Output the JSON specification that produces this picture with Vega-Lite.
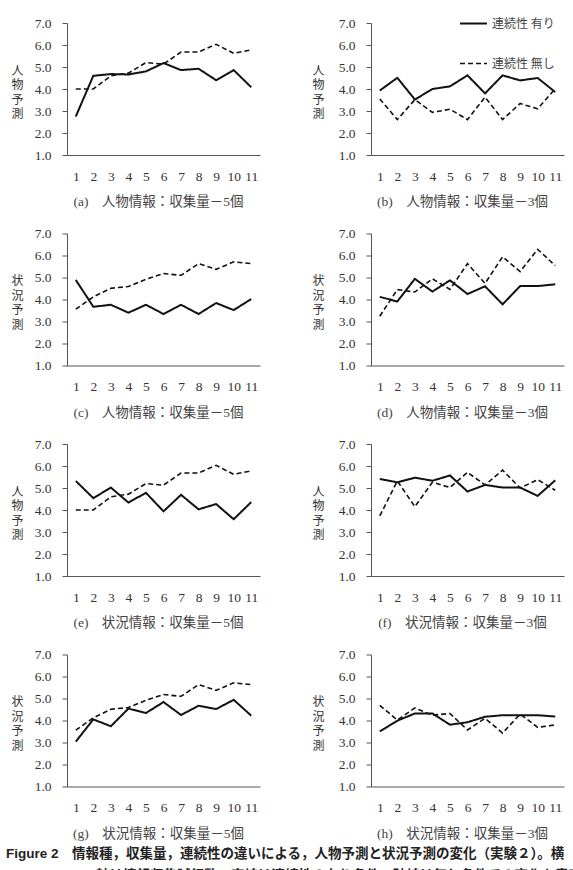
{
  "$schema": "https://vega.github.io/schema/vega-lite/v6.json",
  "padding": {"left": 5, "top": 9, "right": 0, "bottom": 0},
  "background": "white",
  "config": {
    "view": {"stroke": null},
    "axis": {
      "grid": false,
      "domainColor": "#555",
      "tickColor": "#555",
      "labelFont": "Liberation Serif",
      "labelFontSize": 13.5,
      "labelColor": "#333",
      "titleFont": "Liberation Serif, Noto Sans CJK JP",
      "titleFontWeight": "normal",
      "titleColor": "#444",
      "titleFontSize": 13.5
    },
    "axisX": {"ticks": false, "tickSize": 0, "labelPadding": 14, "titlePadding": 12, "labelAngle": 0, "titleX": 91},
    "axisY": {
      "tickSize": 5,
      "labelPadding": 11,
      "titleAngle": 0,
      "titleAlign": "center",
      "titleBaseline": "top",
      "titleY": 42,
      "titleLineHeight": 14.5,
      "titleFontSize": 12,
      "titleColor": "#333",
      "titleFont": "Noto Sans CJK JP"
    }
  },
  "title": {
    "text": [
      "Figure 2　情報種，収集量，連続性の違いによる，人物予測と状況予測の変化（実験２）。横",
      "⠀⠀⠀⠀⠀⠀⠀⠀⠀軸は情報収集試行数，実線は連続性の有り条件，破線は無し条件での変化を意味"
    ],
    "orient": "bottom",
    "anchor": "start",
    "frame": "bounds",
    "offset": 7,
    "dx": -5,
    "font": "Liberation Sans, Noto Sans CJK JP",
    "fontSize": 13.5,
    "fontWeight": "bold",
    "color": "#222",
    "lineHeight": 22
  },
  "resolve": {
    "scale": {"strokeDash": "independent", "strokeWidth": "independent"},
    "legend": {"strokeDash": "independent", "strokeWidth": "independent"}
  },
  "data": {
    "values": [
      {"panel": "a", "cond": "連続性 有り", "trial": 1, "score": 2.75},
      {"panel": "a", "cond": "連続性 有り", "trial": 2, "score": 4.6},
      {"panel": "a", "cond": "連続性 有り", "trial": 3, "score": 4.68},
      {"panel": "a", "cond": "連続性 有り", "trial": 4, "score": 4.66},
      {"panel": "a", "cond": "連続性 有り", "trial": 5, "score": 4.8},
      {"panel": "a", "cond": "連続性 有り", "trial": 6, "score": 5.18},
      {"panel": "a", "cond": "連続性 有り", "trial": 7, "score": 4.86},
      {"panel": "a", "cond": "連続性 有り", "trial": 8, "score": 4.92},
      {"panel": "a", "cond": "連続性 有り", "trial": 9, "score": 4.4},
      {"panel": "a", "cond": "連続性 有り", "trial": 10, "score": 4.86},
      {"panel": "a", "cond": "連続性 有り", "trial": 11, "score": 4.08},
      {"panel": "a", "cond": "連続性 無し", "trial": 1, "score": 4.0},
      {"panel": "a", "cond": "連続性 無し", "trial": 2, "score": 4.0},
      {"panel": "a", "cond": "連続性 無し", "trial": 3, "score": 4.6},
      {"panel": "a", "cond": "連続性 無し", "trial": 4, "score": 4.72},
      {"panel": "a", "cond": "連続性 無し", "trial": 5, "score": 5.2},
      {"panel": "a", "cond": "連続性 無し", "trial": 6, "score": 5.13},
      {"panel": "a", "cond": "連続性 無し", "trial": 7, "score": 5.68},
      {"panel": "a", "cond": "連続性 無し", "trial": 8, "score": 5.68},
      {"panel": "a", "cond": "連続性 無し", "trial": 9, "score": 6.03},
      {"panel": "a", "cond": "連続性 無し", "trial": 10, "score": 5.62},
      {"panel": "a", "cond": "連続性 無し", "trial": 11, "score": 5.78},

      {"panel": "b", "cond": "連続性 有り", "trial": 1, "score": 3.93},
      {"panel": "b", "cond": "連続性 有り", "trial": 2, "score": 4.51},
      {"panel": "b", "cond": "連続性 有り", "trial": 3, "score": 3.52},
      {"panel": "b", "cond": "連続性 有り", "trial": 4, "score": 4.0},
      {"panel": "b", "cond": "連続性 有り", "trial": 5, "score": 4.12},
      {"panel": "b", "cond": "連続性 有り", "trial": 6, "score": 4.62},
      {"panel": "b", "cond": "連続性 有り", "trial": 7, "score": 3.8},
      {"panel": "b", "cond": "連続性 有り", "trial": 8, "score": 4.62},
      {"panel": "b", "cond": "連続性 有り", "trial": 9, "score": 4.39},
      {"panel": "b", "cond": "連続性 有り", "trial": 10, "score": 4.5},
      {"panel": "b", "cond": "連続性 有り", "trial": 11, "score": 3.86},
      {"panel": "b", "cond": "連続性 無し", "trial": 1, "score": 3.55},
      {"panel": "b", "cond": "連続性 無し", "trial": 2, "score": 2.61},
      {"panel": "b", "cond": "連続性 無し", "trial": 3, "score": 3.52},
      {"panel": "b", "cond": "連続性 無し", "trial": 4, "score": 2.94},
      {"panel": "b", "cond": "連続性 無し", "trial": 5, "score": 3.08},
      {"panel": "b", "cond": "連続性 無し", "trial": 6, "score": 2.61},
      {"panel": "b", "cond": "連続性 無し", "trial": 7, "score": 3.63},
      {"panel": "b", "cond": "連続性 無し", "trial": 8, "score": 2.61},
      {"panel": "b", "cond": "連続性 無し", "trial": 9, "score": 3.34},
      {"panel": "b", "cond": "連続性 無し", "trial": 10, "score": 3.1},
      {"panel": "b", "cond": "連続性 無し", "trial": 11, "score": 4.01},

      {"panel": "c", "cond": "連続性 有り", "trial": 1, "score": 4.89},
      {"panel": "c", "cond": "連続性 有り", "trial": 2, "score": 3.67},
      {"panel": "c", "cond": "連続性 有り", "trial": 3, "score": 3.76},
      {"panel": "c", "cond": "連続性 有り", "trial": 4, "score": 3.4},
      {"panel": "c", "cond": "連続性 有り", "trial": 5, "score": 3.76},
      {"panel": "c", "cond": "連続性 有り", "trial": 6, "score": 3.34},
      {"panel": "c", "cond": "連続性 有り", "trial": 7, "score": 3.76},
      {"panel": "c", "cond": "連続性 有り", "trial": 8, "score": 3.34},
      {"panel": "c", "cond": "連続性 有り", "trial": 9, "score": 3.84},
      {"panel": "c", "cond": "連続性 有り", "trial": 10, "score": 3.52},
      {"panel": "c", "cond": "連続性 有り", "trial": 11, "score": 4.02},
      {"panel": "c", "cond": "連続性 無し", "trial": 1, "score": 3.56},
      {"panel": "c", "cond": "連続性 無し", "trial": 2, "score": 4.12},
      {"panel": "c", "cond": "連続性 無し", "trial": 3, "score": 4.51},
      {"panel": "c", "cond": "連続性 無し", "trial": 4, "score": 4.59},
      {"panel": "c", "cond": "連続性 無し", "trial": 5, "score": 4.92},
      {"panel": "c", "cond": "連続性 無し", "trial": 6, "score": 5.18},
      {"panel": "c", "cond": "連続性 無し", "trial": 7, "score": 5.1},
      {"panel": "c", "cond": "連続性 無し", "trial": 8, "score": 5.63},
      {"panel": "c", "cond": "連続性 無し", "trial": 9, "score": 5.37},
      {"panel": "c", "cond": "連続性 無し", "trial": 10, "score": 5.71},
      {"panel": "c", "cond": "連続性 無し", "trial": 11, "score": 5.63},

      {"panel": "d", "cond": "連続性 有り", "trial": 1, "score": 4.12},
      {"panel": "d", "cond": "連続性 有り", "trial": 2, "score": 3.91},
      {"panel": "d", "cond": "連続性 有り", "trial": 3, "score": 4.94},
      {"panel": "d", "cond": "連続性 有り", "trial": 4, "score": 4.36},
      {"panel": "d", "cond": "連続性 有り", "trial": 5, "score": 4.87},
      {"panel": "d", "cond": "連続性 有り", "trial": 6, "score": 4.25},
      {"panel": "d", "cond": "連続性 有り", "trial": 7, "score": 4.6},
      {"panel": "d", "cond": "連続性 有り", "trial": 8, "score": 3.78},
      {"panel": "d", "cond": "連続性 有り", "trial": 9, "score": 4.61},
      {"panel": "d", "cond": "連続性 有り", "trial": 10, "score": 4.61},
      {"panel": "d", "cond": "連続性 有り", "trial": 11, "score": 4.69},
      {"panel": "d", "cond": "連続性 無し", "trial": 1, "score": 3.24},
      {"panel": "d", "cond": "連続性 無し", "trial": 2, "score": 4.45},
      {"panel": "d", "cond": "連続性 無し", "trial": 3, "score": 4.34},
      {"panel": "d", "cond": "連続性 無し", "trial": 4, "score": 4.94},
      {"panel": "d", "cond": "連続性 無し", "trial": 5, "score": 4.46},
      {"panel": "d", "cond": "連続性 無し", "trial": 6, "score": 5.63},
      {"panel": "d", "cond": "連続性 無し", "trial": 7, "score": 4.73},
      {"panel": "d", "cond": "連続性 無し", "trial": 8, "score": 5.94},
      {"panel": "d", "cond": "連続性 無し", "trial": 9, "score": 5.27},
      {"panel": "d", "cond": "連続性 無し", "trial": 10, "score": 6.28},
      {"panel": "d", "cond": "連続性 無し", "trial": 11, "score": 5.54},

      {"panel": "e", "cond": "連続性 有り", "trial": 1, "score": 5.32},
      {"panel": "e", "cond": "連続性 有り", "trial": 2, "score": 4.54},
      {"panel": "e", "cond": "連続性 有り", "trial": 3, "score": 5.02},
      {"panel": "e", "cond": "連続性 有り", "trial": 4, "score": 4.34},
      {"panel": "e", "cond": "連続性 有り", "trial": 5, "score": 4.78},
      {"panel": "e", "cond": "連続性 有り", "trial": 6, "score": 3.94},
      {"panel": "e", "cond": "連続性 有り", "trial": 7, "score": 4.69},
      {"panel": "e", "cond": "連続性 有り", "trial": 8, "score": 4.03},
      {"panel": "e", "cond": "連続性 有り", "trial": 9, "score": 4.27},
      {"panel": "e", "cond": "連続性 有り", "trial": 10, "score": 3.58},
      {"panel": "e", "cond": "連続性 有り", "trial": 11, "score": 4.36},
      {"panel": "e", "cond": "連続性 無し", "trial": 1, "score": 4.0},
      {"panel": "e", "cond": "連続性 無し", "trial": 2, "score": 4.0},
      {"panel": "e", "cond": "連続性 無し", "trial": 3, "score": 4.6},
      {"panel": "e", "cond": "連続性 無し", "trial": 4, "score": 4.72},
      {"panel": "e", "cond": "連続性 無し", "trial": 5, "score": 5.2},
      {"panel": "e", "cond": "連続性 無し", "trial": 6, "score": 5.13},
      {"panel": "e", "cond": "連続性 無し", "trial": 7, "score": 5.68},
      {"panel": "e", "cond": "連続性 無し", "trial": 8, "score": 5.68},
      {"panel": "e", "cond": "連続性 無し", "trial": 9, "score": 6.03},
      {"panel": "e", "cond": "連続性 無し", "trial": 10, "score": 5.62},
      {"panel": "e", "cond": "連続性 無し", "trial": 11, "score": 5.78},

      {"panel": "f", "cond": "連続性 有り", "trial": 1, "score": 5.41},
      {"panel": "f", "cond": "連続性 有り", "trial": 2, "score": 5.26},
      {"panel": "f", "cond": "連続性 有り", "trial": 3, "score": 5.47},
      {"panel": "f", "cond": "連続性 有り", "trial": 4, "score": 5.33},
      {"panel": "f", "cond": "連続性 有り", "trial": 5, "score": 5.57},
      {"panel": "f", "cond": "連続性 有り", "trial": 6, "score": 4.84},
      {"panel": "f", "cond": "連続性 有り", "trial": 7, "score": 5.14},
      {"panel": "f", "cond": "連続性 有り", "trial": 8, "score": 5.02},
      {"panel": "f", "cond": "連続性 有り", "trial": 9, "score": 5.02},
      {"panel": "f", "cond": "連続性 有り", "trial": 10, "score": 4.64},
      {"panel": "f", "cond": "連続性 有り", "trial": 11, "score": 5.35},
      {"panel": "f", "cond": "連続性 無し", "trial": 1, "score": 3.73},
      {"panel": "f", "cond": "連続性 無し", "trial": 2, "score": 5.32},
      {"panel": "f", "cond": "連続性 無し", "trial": 3, "score": 4.15},
      {"panel": "f", "cond": "連続性 無し", "trial": 4, "score": 5.26},
      {"panel": "f", "cond": "連続性 無し", "trial": 5, "score": 5.02},
      {"panel": "f", "cond": "連続性 無し", "trial": 6, "score": 5.71},
      {"panel": "f", "cond": "連続性 無し", "trial": 7, "score": 5.14},
      {"panel": "f", "cond": "連続性 無し", "trial": 8, "score": 5.81},
      {"panel": "f", "cond": "連続性 無し", "trial": 9, "score": 5.0},
      {"panel": "f", "cond": "連続性 無し", "trial": 10, "score": 5.38},
      {"panel": "f", "cond": "連続性 無し", "trial": 11, "score": 4.9},

      {"panel": "g", "cond": "連続性 有り", "trial": 1, "score": 3.04},
      {"panel": "g", "cond": "連続性 有り", "trial": 2, "score": 4.05},
      {"panel": "g", "cond": "連続性 有り", "trial": 3, "score": 3.74},
      {"panel": "g", "cond": "連続性 有り", "trial": 4, "score": 4.54},
      {"panel": "g", "cond": "連続性 有り", "trial": 5, "score": 4.34},
      {"panel": "g", "cond": "連続性 有り", "trial": 6, "score": 4.84},
      {"panel": "g", "cond": "連続性 有り", "trial": 7, "score": 4.25},
      {"panel": "g", "cond": "連続性 有り", "trial": 8, "score": 4.67},
      {"panel": "g", "cond": "連続性 有り", "trial": 9, "score": 4.52},
      {"panel": "g", "cond": "連続性 有り", "trial": 10, "score": 4.94},
      {"panel": "g", "cond": "連続性 有り", "trial": 11, "score": 4.22},
      {"panel": "g", "cond": "連続性 無し", "trial": 1, "score": 3.56},
      {"panel": "g", "cond": "連続性 無し", "trial": 2, "score": 4.12},
      {"panel": "g", "cond": "連続性 無し", "trial": 3, "score": 4.51},
      {"panel": "g", "cond": "連続性 無し", "trial": 4, "score": 4.59},
      {"panel": "g", "cond": "連続性 無し", "trial": 5, "score": 4.92},
      {"panel": "g", "cond": "連続性 無し", "trial": 6, "score": 5.18},
      {"panel": "g", "cond": "連続性 無し", "trial": 7, "score": 5.1},
      {"panel": "g", "cond": "連続性 無し", "trial": 8, "score": 5.63},
      {"panel": "g", "cond": "連続性 無し", "trial": 9, "score": 5.37},
      {"panel": "g", "cond": "連続性 無し", "trial": 10, "score": 5.71},
      {"panel": "g", "cond": "連続性 無し", "trial": 11, "score": 5.63},

      {"panel": "h", "cond": "連続性 有り", "trial": 1, "score": 3.5},
      {"panel": "h", "cond": "連続性 有り", "trial": 2, "score": 3.99},
      {"panel": "h", "cond": "連続性 有り", "trial": 3, "score": 4.32},
      {"panel": "h", "cond": "連続性 有り", "trial": 4, "score": 4.32},
      {"panel": "h", "cond": "連続性 有り", "trial": 5, "score": 3.81},
      {"panel": "h", "cond": "連続性 有り", "trial": 6, "score": 3.92},
      {"panel": "h", "cond": "連続性 有り", "trial": 7, "score": 4.17},
      {"panel": "h", "cond": "連続性 有り", "trial": 8, "score": 4.24},
      {"panel": "h", "cond": "連続性 有り", "trial": 9, "score": 4.24},
      {"panel": "h", "cond": "連続性 有り", "trial": 10, "score": 4.24},
      {"panel": "h", "cond": "連続性 有り", "trial": 11, "score": 4.18},
      {"panel": "h", "cond": "連続性 無し", "trial": 1, "score": 4.69},
      {"panel": "h", "cond": "連続性 無し", "trial": 2, "score": 4.02},
      {"panel": "h", "cond": "連続性 無し", "trial": 3, "score": 4.57},
      {"panel": "h", "cond": "連続性 無し", "trial": 4, "score": 4.24},
      {"panel": "h", "cond": "連続性 無し", "trial": 5, "score": 4.32},
      {"panel": "h", "cond": "連続性 無し", "trial": 6, "score": 3.57},
      {"panel": "h", "cond": "連続性 無し", "trial": 7, "score": 4.1},
      {"panel": "h", "cond": "連続性 無し", "trial": 8, "score": 3.43},
      {"panel": "h", "cond": "連続性 無し", "trial": 9, "score": 4.29},
      {"panel": "h", "cond": "連続性 無し", "trial": 10, "score": 3.69},
      {"panel": "h", "cond": "連続性 無し", "trial": 11, "score": 3.8}
    ]
  },
  "columns": 2,
  "bounds": "flush",
  "spacing": {"row": 78.5, "column": 111},
  "concat": [
    {
      "width": 193, "height": 132,
      "transform": [{"filter": "datum.panel === 'a'"}],
      "mark": {"type": "line", "color": "#111"},
      "encoding": {
        "x": {"field": "trial", "type": "quantitative", "scale": {"domain": [0.5, 11.5]},
              "axis": {"values": [1,2,3,4,5,6,7,8,9,10,11], "format": "d", "title": "(a)　人物情報：収集量－5個"}},
        "y": {"field": "score", "type": "quantitative", "scale": {"domain": [1, 7]},
              "axis": {"values": [1,2,3,4,5,6,7], "format": ".1f", "title": ["人","物","予","測"], "titleX": -50}},
        "strokeDash": {"field": "cond", "type": "nominal", "scale": {"domain": ["連続性 有り","連続性 無し"], "range": [[1,0],[5,3]]}, "legend": null},
        "strokeWidth": {"field": "cond", "type": "nominal", "scale": {"domain": ["連続性 有り","連続性 無し"], "range": [2,1.6]}, "legend": null}
      }
    },
    {
      "width": 193, "height": 132,
      "transform": [{"filter": "datum.panel === 'b'"}],
      "mark": {"type": "line", "color": "#111"},
      "encoding": {
        "x": {"field": "trial", "type": "quantitative", "scale": {"domain": [0.5, 11.5]},
              "axis": {"values": [1,2,3,4,5,6,7,8,9,10,11], "format": "d", "title": "(b)　人物情報：収集量－3個"}},
        "y": {"field": "score", "type": "quantitative", "scale": {"domain": [1, 7]},
              "axis": {"values": [1,2,3,4,5,6,7], "format": ".1f", "title": ["人","物","予","測"], "titleX": -53}},
        "strokeDash": {"field": "cond", "type": "nominal", "scale": {"domain": ["連続性 有り","連続性 無し"], "range": [[1,0],[5,3]]},
                       "legend": {"title": null, "orient": "none", "legendX": 88, "legendY": -14, "symbolType": "stroke", "symbolSize": 729,
                                  "symbolStrokeColor": "#111", "rowPadding": 19, "labelOffset": 4, "labelFont": "Noto Sans CJK JP",
                                  "labelFontSize": 12, "labelColor": "#444"}},
        "strokeWidth": {"field": "cond", "type": "nominal", "scale": {"domain": ["連続性 有り","連続性 無し"], "range": [2,1.6]},
                        "legend": {"title": null, "orient": "none", "legendX": 88, "legendY": -14, "symbolType": "stroke", "symbolSize": 729,
                                   "symbolStrokeColor": "#111", "rowPadding": 19, "labelOffset": 4, "labelFont": "Noto Sans CJK JP",
                                   "labelFontSize": 12, "labelColor": "#444"}}
      }
    },
    {
      "width": 193, "height": 132,
      "transform": [{"filter": "datum.panel === 'c'"}],
      "mark": {"type": "line", "color": "#111"},
      "encoding": {
        "x": {"field": "trial", "type": "quantitative", "scale": {"domain": [0.5, 11.5]},
              "axis": {"values": [1,2,3,4,5,6,7,8,9,10,11], "format": "d", "title": "(c)　人物情報：収集量－5個"}},
        "y": {"field": "score", "type": "quantitative", "scale": {"domain": [1, 7]},
              "axis": {"values": [1,2,3,4,5,6,7], "format": ".1f", "title": ["状","況","予","測"], "titleX": -50}},
        "strokeDash": {"field": "cond", "type": "nominal", "scale": {"domain": ["連続性 有り","連続性 無し"], "range": [[1,0],[5,3]]}, "legend": null},
        "strokeWidth": {"field": "cond", "type": "nominal", "scale": {"domain": ["連続性 有り","連続性 無し"], "range": [2,1.6]}, "legend": null}
      }
    },
    {
      "width": 193, "height": 132,
      "transform": [{"filter": "datum.panel === 'd'"}],
      "mark": {"type": "line", "color": "#111"},
      "encoding": {
        "x": {"field": "trial", "type": "quantitative", "scale": {"domain": [0.5, 11.5]},
              "axis": {"values": [1,2,3,4,5,6,7,8,9,10,11], "format": "d", "title": "(d)　人物情報：収集量－3個"}},
        "y": {"field": "score", "type": "quantitative", "scale": {"domain": [1, 7]},
              "axis": {"values": [1,2,3,4,5,6,7], "format": ".1f", "title": ["状","況","予","測"], "titleX": -53}},
        "strokeDash": {"field": "cond", "type": "nominal", "scale": {"domain": ["連続性 有り","連続性 無し"], "range": [[1,0],[5,3]]}, "legend": null},
        "strokeWidth": {"field": "cond", "type": "nominal", "scale": {"domain": ["連続性 有り","連続性 無し"], "range": [2,1.6]}, "legend": null}
      }
    },
    {
      "width": 193, "height": 132,
      "transform": [{"filter": "datum.panel === 'e'"}],
      "mark": {"type": "line", "color": "#111"},
      "encoding": {
        "x": {"field": "trial", "type": "quantitative", "scale": {"domain": [0.5, 11.5]},
              "axis": {"values": [1,2,3,4,5,6,7,8,9,10,11], "format": "d", "title": "(e)　状況情報：収集量－5個"}},
        "y": {"field": "score", "type": "quantitative", "scale": {"domain": [1, 7]},
              "axis": {"values": [1,2,3,4,5,6,7], "format": ".1f", "title": ["人","物","予","測"], "titleX": -50}},
        "strokeDash": {"field": "cond", "type": "nominal", "scale": {"domain": ["連続性 有り","連続性 無し"], "range": [[1,0],[5,3]]}, "legend": null},
        "strokeWidth": {"field": "cond", "type": "nominal", "scale": {"domain": ["連続性 有り","連続性 無し"], "range": [2,1.6]}, "legend": null}
      }
    },
    {
      "width": 193, "height": 132,
      "transform": [{"filter": "datum.panel === 'f'"}],
      "mark": {"type": "line", "color": "#111"},
      "encoding": {
        "x": {"field": "trial", "type": "quantitative", "scale": {"domain": [0.5, 11.5]},
              "axis": {"values": [1,2,3,4,5,6,7,8,9,10,11], "format": "d", "title": "(f)　状況情報：収集量－3個"}},
        "y": {"field": "score", "type": "quantitative", "scale": {"domain": [1, 7]},
              "axis": {"values": [1,2,3,4,5,6,7], "format": ".1f", "title": ["人","物","予","測"], "titleX": -53}},
        "strokeDash": {"field": "cond", "type": "nominal", "scale": {"domain": ["連続性 有り","連続性 無し"], "range": [[1,0],[5,3]]}, "legend": null},
        "strokeWidth": {"field": "cond", "type": "nominal", "scale": {"domain": ["連続性 有り","連続性 無し"], "range": [2,1.6]}, "legend": null}
      }
    },
    {
      "width": 193, "height": 132,
      "transform": [{"filter": "datum.panel === 'g'"}],
      "mark": {"type": "line", "color": "#111"},
      "encoding": {
        "x": {"field": "trial", "type": "quantitative", "scale": {"domain": [0.5, 11.5]},
              "axis": {"values": [1,2,3,4,5,6,7,8,9,10,11], "format": "d", "title": "(g)　状況情報：収集量－5個"}},
        "y": {"field": "score", "type": "quantitative", "scale": {"domain": [1, 7]},
              "axis": {"values": [1,2,3,4,5,6,7], "format": ".1f", "title": ["状","況","予","測"], "titleX": -50}},
        "strokeDash": {"field": "cond", "type": "nominal", "scale": {"domain": ["連続性 有り","連続性 無し"], "range": [[1,0],[5,3]]}, "legend": null},
        "strokeWidth": {"field": "cond", "type": "nominal", "scale": {"domain": ["連続性 有り","連続性 無し"], "range": [2,1.6]}, "legend": null}
      }
    },
    {
      "width": 193, "height": 132,
      "transform": [{"filter": "datum.panel === 'h'"}],
      "mark": {"type": "line", "color": "#111"},
      "encoding": {
        "x": {"field": "trial", "type": "quantitative", "scale": {"domain": [0.5, 11.5]},
              "axis": {"values": [1,2,3,4,5,6,7,8,9,10,11], "format": "d", "title": "(h)　状況情報：収集量－3個"}},
        "y": {"field": "score", "type": "quantitative", "scale": {"domain": [1, 7]},
              "axis": {"values": [1,2,3,4,5,6,7], "format": ".1f", "title": ["状","況","予","測"], "titleX": -53}},
        "strokeDash": {"field": "cond", "type": "nominal", "scale": {"domain": ["連続性 有り","連続性 無し"], "range": [[1,0],[5,3]]}, "legend": null},
        "strokeWidth": {"field": "cond", "type": "nominal", "scale": {"domain": ["連続性 有り","連続性 無し"], "range": [2,1.6]}, "legend": null}
      }
    }
  ]
}
